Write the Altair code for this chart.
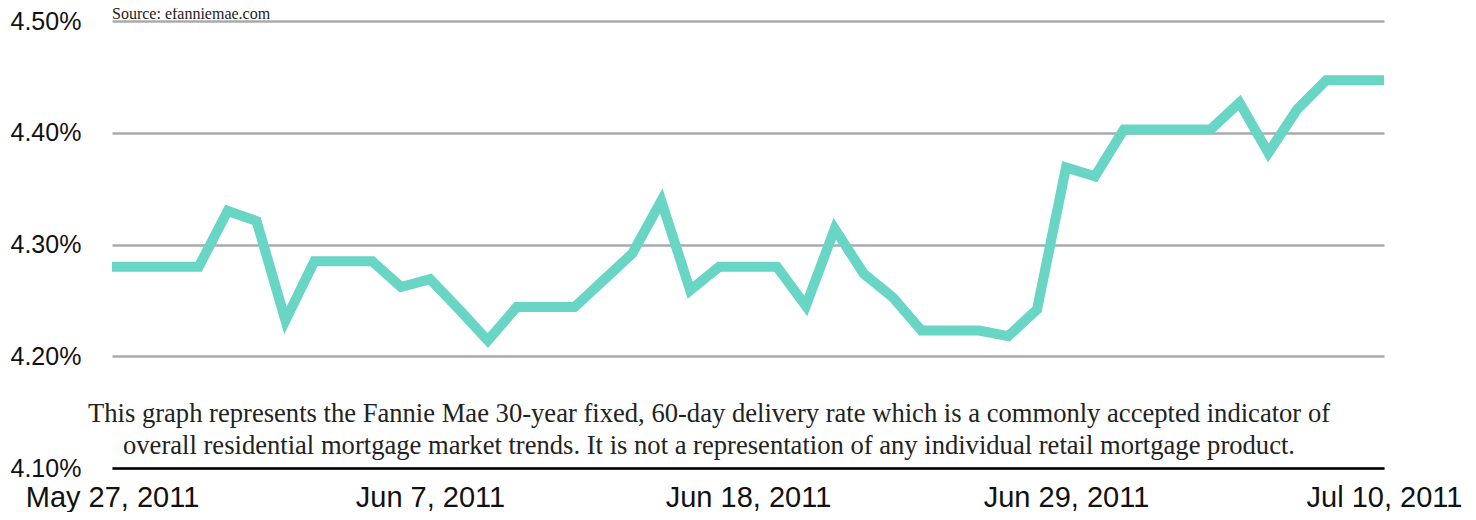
import altair as alt
import pandas as pd

dates = pd.date_range("2011-05-27", "2011-07-10", freq="D").strftime("%Y-%m-%d").tolist()
rates = [
    4.280, 4.280, 4.280, 4.280, 4.330, 4.321, 4.232, 4.285, 4.285, 4.285,
    4.262, 4.269, 4.242, 4.214, 4.244, 4.244, 4.244, 4.268, 4.292, 4.339,
    4.259, 4.280, 4.280, 4.280, 4.245, 4.314, 4.274, 4.253, 4.223, 4.223,
    4.223, 4.218, 4.242, 4.369, 4.361, 4.403, 4.403, 4.403, 4.403, 4.427,
    4.382, 4.421, 4.447, 4.447, 4.447,
]
tick_dates = [(2011, 5, 27), (2011, 6, 7), (2011, 6, 18), (2011, 6, 29), (2011, 7, 10)]
y_ticks = [4.10, 4.20, 4.30, 4.40, 4.50]
source_text = "Source: efanniemae.com"
note_line1 = "This graph represents the Fannie Mae 30-year fixed, 60-day delivery rate which is a commonly accepted indicator of"
note_line2 = "overall residential mortgage market trends. It is not a representation of any individual retail mortgage product."

df = pd.DataFrame({"date": dates, "rate": rates})

x_enc = alt.X(
    "date:T",
    scale=alt.Scale(type="utc",
                    domain=[alt.DateTime(year=2011, month=5, date=27, utc=True),
                            alt.DateTime(year=2011, month=7, date=10, utc=True)]),
    axis=alt.Axis(
        values=[alt.DateTime(year=y, month=m, date=d, utc=True) for (y, m, d) in tick_dates],
        format="%b %-d, %Y",
        labelFont="Liberation Sans",
        labelFontSize=29,
        labelColor="#111111",
        labelFlush=False,
        labelPadding=15,
        ticks=False,
        grid=False,
        domain=True,
        domainColor="#000000",
        domainWidth=2.5,
        title=None,
    ),
)
y_enc = alt.Y(
    "rate:Q",
    scale=alt.Scale(domain=[4.10, 4.50], zero=False, nice=False),
    axis=alt.Axis(
        values=y_ticks,
        labelExpr="format(datum.value, '.2f') + '%'",
        labelFont="Liberation Sans",
        labelFontSize=25,
        labelColor="#111111",
        labelAlign="left",
        labelBaseline="middle",
        labelPadding=102,
        ticks=False,
        domain=False,
        grid=True,
        gridColor="#aaaaaa",
        gridWidth=2.5,
        title=None,
    ),
)

line = alt.Chart(df).mark_line(
    color="#68D5C5", strokeWidth=10, strokeJoin="miter", strokeCap="butt"
).encode(x=x_enc, y=y_enc)

src = alt.Chart(pd.DataFrame({"t": [source_text]})).mark_text(
    font="Liberation Serif", fontSize=16, align="left", baseline="alphabetic", color="#222222"
).encode(x=alt.value(0), y=alt.value(-2), text="t:N")

note1 = alt.Chart(pd.DataFrame({"t": [note_line1]})).mark_text(
    font="Liberation Serif", fontSize=26.6, align="center", baseline="alphabetic", color="#222222"
).encode(x=alt.value(597), y=alt.value(401), text="t:N")

note2 = alt.Chart(pd.DataFrame({"t": [note_line2]})).mark_text(
    font="Liberation Serif", fontSize=26.6, align="center", baseline="alphabetic", color="#222222"
).encode(x=alt.value(597), y=alt.value(433), text="t:N")

chart = alt.layer(line, src, note1, note2).properties(
    width=1272,
    height=447,
    autosize=alt.AutoSizeParams(type="none"),
    padding={"left": 104, "top": 13, "right": 84, "bottom": 44},
    background="white",
).configure_view(stroke=None)

chart.save("out.html", embed_options={"renderer": "svg", "actions": False})
